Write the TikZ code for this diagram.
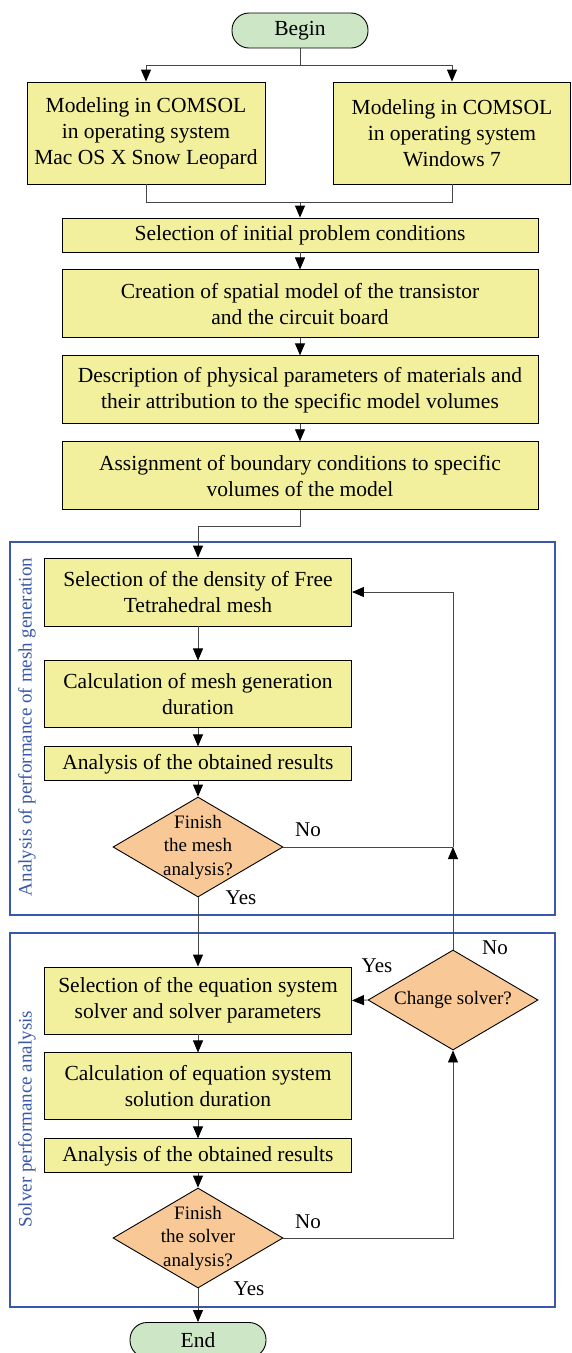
\documentclass[tikz,border=0pt]{standalone}
\usepackage{fontspec}
\setmainfont{Liberation Serif}
\usepackage{xcolor}
\usetikzlibrary{arrows.meta, positioning, shapes.geometric}
\definecolor{procyellow}{RGB}{242,240,156}
\definecolor{termgreen}{RGB}{204,230,198}
\definecolor{decorange}{RGB}{248,200,150}
\definecolor{framebl}{RGB}{58,88,170}
\definecolor{linegray}{RGB}{70,70,70}

\begin{document}
\begin{tikzpicture}[x=1pt,y=-1pt]
 \tikzstyle{procbox}=[rectangle,draw=black,fill=procyellow,line width=.9pt,
   align=center,inner sep=2pt,font=\fontsize{21.5}{26}\selectfont]
 \tikzstyle{termbox}=[rectangle,rounded corners=17pt,draw=black,fill=termgreen,
   line width=.9pt,minimum width=136pt,minimum height=35pt,
   font=\fontsize{21.5}{26}\selectfont]
 \tikzstyle{decbox}=[diamond,draw=black,fill=decorange,line width=.9pt,
   shape aspect=1.7,minimum width=170pt,minimum height=100pt,inner sep=0pt,
   font=\fontsize{19}{23}\selectfont]
 \tikzstyle{dectext}=[align=center,inner sep=0pt,font=\fontsize{19}{23.5}\selectfont]
 \tikzstyle{grpframe}=[rectangle,draw=framebl,line width=1.2pt,
   minimum width=545pt,inner sep=0pt]
 \tikzstyle{grplabel}=[rotate=90,text=framebl,inner sep=0pt,
   font=\fontsize{19}{23}\selectfont]
 \tikzstyle{answer}=[inner sep=0pt,font=\fontsize{21}{25}\selectfont]
 \tikzstyle{flow}=[draw=linegray,line width=.9pt,
   -{Triangle[length=12pt,width=10pt,color=black]}]
 \tikzstyle{plain}=[draw=linegray,line width=.9pt]
 \useasboundingbox (0,0) rectangle (571,1353);

 % frames of the two analysis groups
 \node (meshframe) [grpframe,minimum height=373pt] at (282.5,728.5) {};
 \node (solvframe) [grpframe,minimum height=374pt] at (282.5,1120) {};
 \node (meshlabel) [grplabel] at (27,727)
   {Analysis of performance of mesh generation};
 \node (solvlabel) [grplabel] at (27,1119) {Solver performance analysis};

 % preparation of the model
 \node (begin) [termbox] at (300,30.5) {Begin};
 \node (macos) [procbox,minimum width=238pt,minimum height=102pt] at (146,133)
   {Modeling in COMSOL\\in operating system\\Mac OS X Snow Leopard};
 \node (win) [procbox,minimum width=237pt,minimum height=102pt] at (452,133)
   {Modeling in COMSOL\\in operating system\\Windows 7};
 \node (init) [procbox,minimum width=476pt,minimum height=34pt] at (300,235)
   {Selection of initial problem conditions};
 \node (spatial) [procbox,minimum width=476pt,minimum height=68pt,below=17pt of init]
   {Creation of spatial model of the transistor\\and the circuit board};
 \node (matl) [procbox,minimum width=476pt,minimum height=68pt,below=17pt of spatial]
   {Description of physical parameters of materials and\\
   their attribution to the specific model volumes};
 \node (bound) [procbox,minimum width=476pt,minimum height=68pt,below=17pt of matl]
   {Assignment of boundary conditions to specific\\volumes of the model};

 % mesh generation
 \node (density) [procbox,minimum width=307pt,minimum height=68pt] at (198,592)
   {Selection of the density of Free\\Tetrahedral mesh};
 \node (meshtime) [procbox,minimum width=307pt,minimum height=67pt,below=34pt of density]
   {Calculation of mesh generation\\duration};
 \node (meshres) [procbox,minimum width=307pt,minimum height=34pt,below=18pt of meshtime]
   {Analysis of the obtained results};
 \node (meshq) [decbox,label={[dectext]center:{Finish\\the mesh\\analysis?}}]
   at (198,847) {};

 % solver
 \node (solvsel) [procbox,minimum width=307pt,minimum height=67pt] at (198,1000.5)
   {Selection of the equation system\\solver and solver parameters};
 \node (solvtime) [procbox,minimum width=307pt,minimum height=67pt,below=18pt of solvsel]
   {Calculation of equation system\\solution duration};
 \node (solvres) [procbox,minimum width=307pt,minimum height=34pt,below=18pt of solvtime]
   {Analysis of the obtained results};
 \node (solvq) [decbox,label={[dectext]center:{Finish\\the solver\\analysis?}}]
   at (198,1238) {};
 \node (change) [decbox] at (453,1000) {Change solver?};
 \node (end) [termbox] at (198,1340) {End};

 \node (meshno) [answer] at (308,830) {No};
 \node (meshyes) [answer] at (241,898) {Yes};
 \node (chyes) [answer] at (377,966) {Yes};
 \node (chno) [answer] at (495,948) {No};
 \node (solvno) [answer] at (308,1222) {No};
 \node (solvyes) [answer] at (249,1289) {Yes};

 \coordinate (split) at (300,65);
 \coordinate (join) at (300,202);
 \coordinate (loop) at (change.north |- meshq.east);

 \draw[plain] (begin) -- (split);
 \draw[flow] (split) -| (macos.north);
 \draw[flow] (split) -| (win.north);
 \draw[plain] (macos.south) |- (join);
 \draw[plain] (win.south) |- (join);
 \draw[flow] (join) -- (init);
 \draw[flow] (init) -- (spatial);
 \draw[flow] (spatial) -- (matl);
 \draw[flow] (matl) -- (bound);
 \draw[flow] (bound.south) -- ++(0,16) -| (density.north);
 \draw[flow] (density) -- (meshtime);
 \draw[flow] (meshtime) -- (meshres);
 \draw[flow] (meshres) -- (meshq);
 \draw[flow] (meshq.south) -- (solvsel.north);
 \draw[plain] (meshq.east) -- (loop);
 \draw[flow] (change.north) -- (loop);
 \draw[flow] (loop) |- (density.east);
 \draw[flow] (solvsel) -- (solvtime);
 \draw[flow] (solvtime) -- (solvres);
 \draw[flow] (solvres) -- (solvq);
 \draw[flow] (solvq.east) -| (change.south);
 \draw[flow] (change.west) -- (solvsel.east);
 \draw[flow] (solvq.south) -- (end.north);
\end{tikzpicture}
\end{document}
